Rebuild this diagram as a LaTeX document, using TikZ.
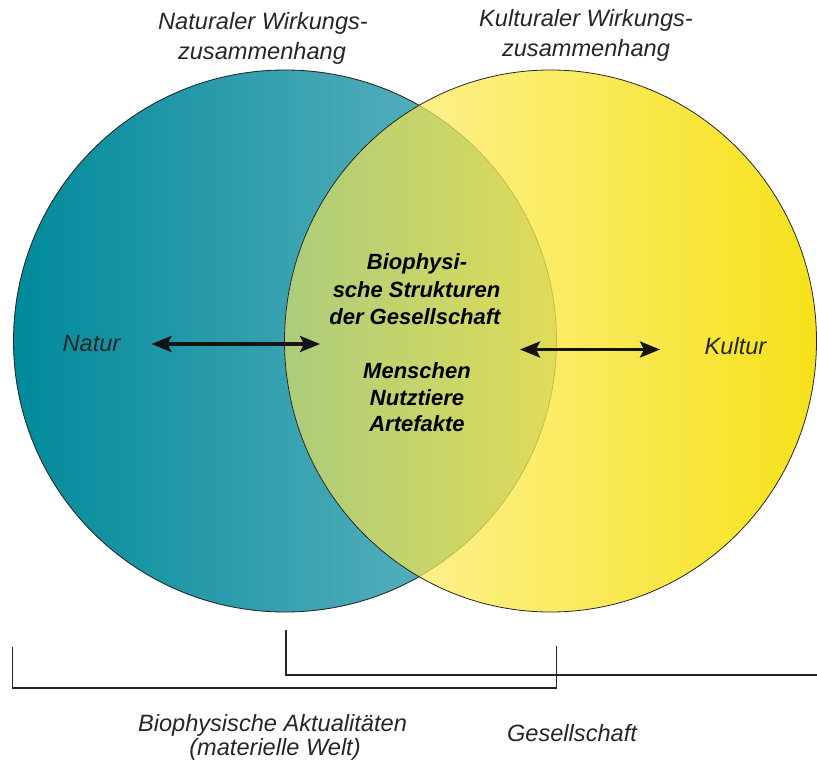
\documentclass[tikz,border=0pt]{standalone}
\usepackage{fontspec}
\setmainfont{Liberation Sans}
\usetikzlibrary{arrows.meta}
\definecolor{tealL}{HTML}{008A9B}
\definecolor{tealR}{HTML}{6FB9C5}
\definecolor{yelL}{HTML}{FFF6B0}
\definecolor{yelR}{HTML}{F6E11A}
\definecolor{ovL}{HTML}{ACCC7B}
\definecolor{ovR}{HTML}{E0DC58}
\definecolor{txt}{HTML}{262626}
\begin{document}
\begin{tikzpicture}[x=0.75pt,y=-0.75pt,
  lbl/.style={font=\fontsize{17.7}{18.75}\selectfont\itshape, text=txt, inner sep=0, anchor=base},
  ctr/.style={font=\fontsize{16.5}{20}\selectfont\bfseries\itshape, text=black, inner sep=0, anchor=base},
  outline/.style={draw=black!85, line width=0.6pt},
  dblarrow/.style={{Stealth[length=15pt,width=12pt,inset=3pt]}-{Stealth[length=15pt,width=12pt,inset=3pt]}, line width=2.3pt, draw=black!92},
  bracket/.style={draw=txt, line width=0.8pt}]
\useasboundingbox (0,0) rectangle (817,763);

% circle centres
\coordinate (cL) at (285,341);
\coordinate (cR) at (550.5,341);

% left (natural) circle
\shade[left color=tealL, right color=tealR] (cL) ellipse [x radius=271.5, y radius=271];
\draw[outline] (cL) ellipse [x radius=271.5, y radius=271];

% right (cultural) circle
\shade[left color=yelL, right color=yelR] (cR) ellipse [x radius=266, y radius=271];

% overlap
\begin{scope}
  \clip (cL) ellipse [x radius=271.5, y radius=271];
  \clip (cR) ellipse [x radius=266, y radius=271];
  \shade[left color=ovL, right color=ovR] (284,60) rectangle (558,620);
\end{scope}
\draw[outline, draw opacity=0.2] (cL) ellipse [x radius=271.5, y radius=271];
\draw[outline] (cR) ellipse [x radius=266, y radius=271];

% top labels
\node[lbl] (nat1) at (263,30) {Naturaler Wirkungs-};
\node[lbl] (nat2) at (262,59.5) {zusammenhang};
\node[lbl] (kul1) at (586,27) {Kulturaler Wirkungs-};
\node[lbl] (kul2) at (586,56.5) {zusammenhang};

% side labels
\node[lbl] (natur) at (91.5,351) {Natur};
\node[lbl] (kultur) at (735.5,354) {Kultur};

% centre texts
\node[ctr] (c1) at (417,269.5) {Biophysi-};
\node[ctr] (c2) at (416.5,297.5) {sche Strukturen};
\node[ctr] (c3) at (415,324.5) {der Gesellschaft};
\node[ctr] (c4) at (417,378) {Menschen};
\node[ctr] (c5) at (417,405) {Nutztiere};
\node[ctr] (c6) at (417,431.5) {Artefakte};

% arrows
\coordinate (aL1) at (151.5,344);
\coordinate (aL2) at (320,344);
\coordinate (aR1) at (520,349.5);
\coordinate (aR2) at (660,349.5);
\draw[dblarrow] (aL1) -- (aL2);
\draw[dblarrow] (aR1) -- (aR2);

% brackets
\coordinate (b1a) at (12.5,647);
\coordinate (b1b) at (12.5,688);
\coordinate (b1c) at (556.5,688);
\coordinate (b1d) at (556.5,646);
\draw[bracket] (b1a) -- (b1b) -- (b1c) -- (b1d);
\coordinate (b2a) at (286,630);
\coordinate (b2b) at (286,675);
\coordinate (b2c) at (817,675);
\draw[bracket] (b2a) -- (b2b) -- (b2c);

% bottom labels
\node[lbl] (bio1) at (272.5,731.5) {Biophysische Aktualitäten};
\node[lbl] (bio2) at (275,755.5) {(materielle Welt)};
\node[lbl] (ges) at (572,741.5) {Gesellschaft};
\end{tikzpicture}
\end{document}
